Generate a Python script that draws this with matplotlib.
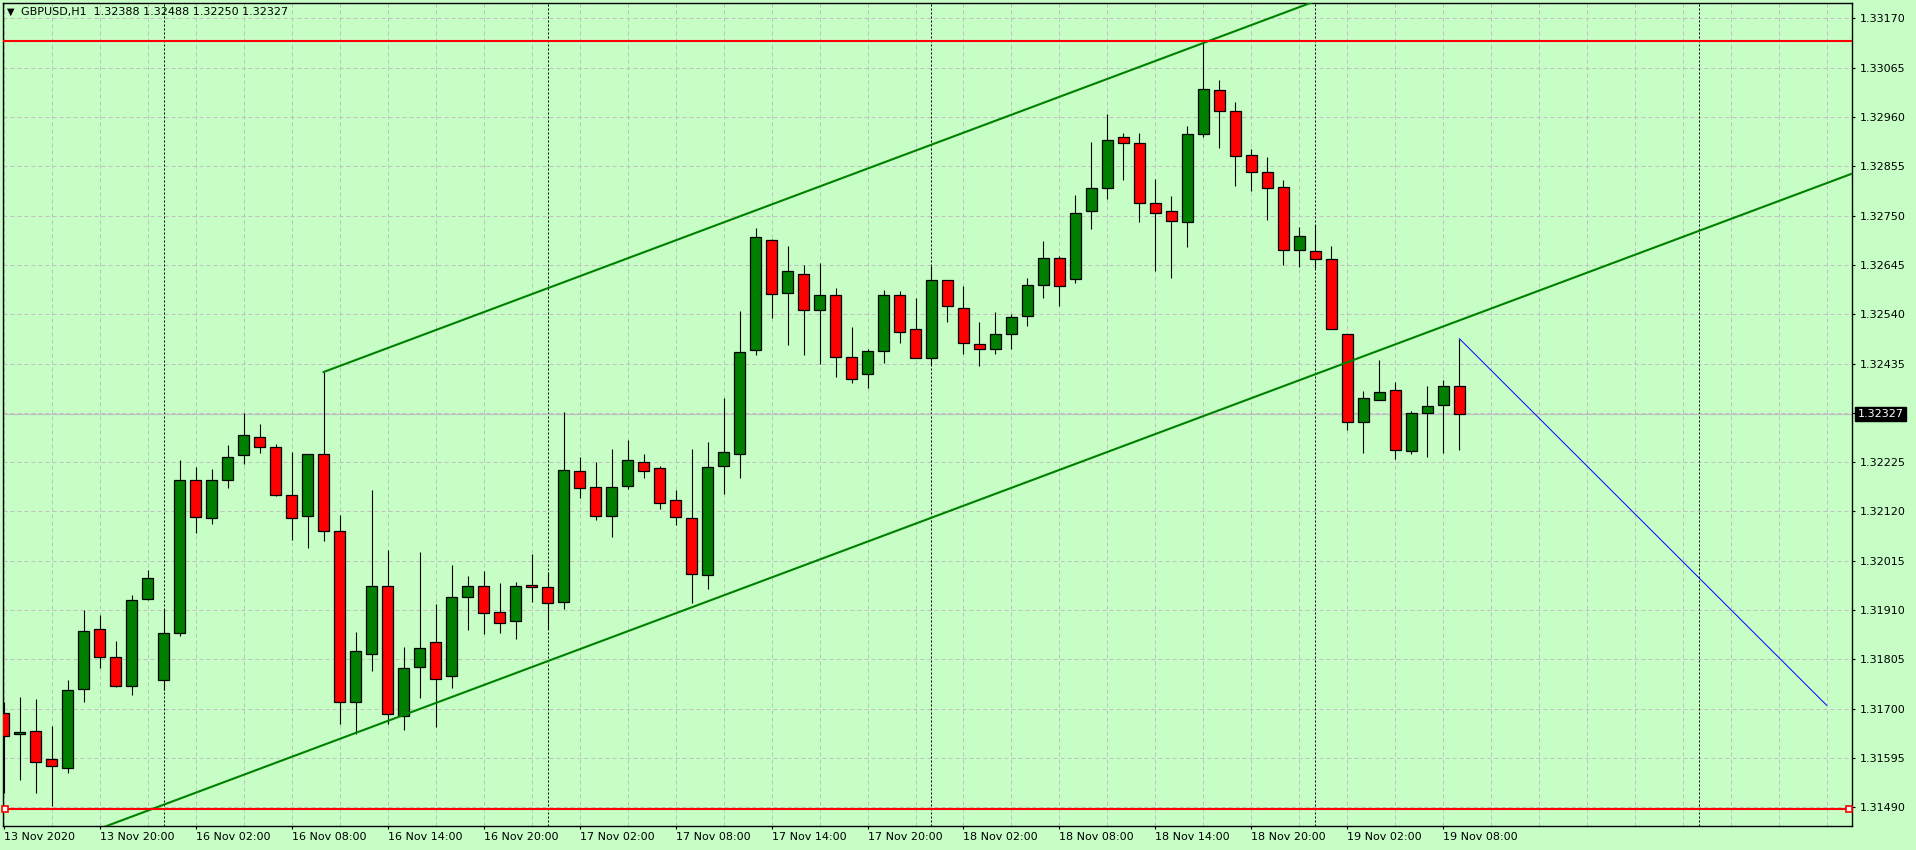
import matplotlib
matplotlib.use('Agg')
import matplotlib.pyplot as plt
import numpy as np

# GBPUSD H1 - velas
etiquetas_x = ['13 Nov 2020', '13 Nov 20:00', '16 Nov 02:00', '16 Nov 08:00', '16 Nov 14:00',
               '16 Nov 20:00', '17 Nov 02:00', '17 Nov 08:00', '17 Nov 14:00', '17 Nov 20:00',
               '18 Nov 02:00', '18 Nov 08:00', '18 Nov 14:00', '18 Nov 20:00', '19 Nov 02:00',
               '19 Nov 08:00']

aperturas = [1.31690, 1.31645, 1.31653, 1.31592, 1.31573, 1.31741, 1.31869, 1.31811, 1.31748, 1.31934,
             1.31762, 1.31862, 1.32188, 1.32107, 1.32186, 1.32241, 1.32278, 1.32258, 1.32156, 1.32111,
             1.32243, 1.32079, 1.31714, 1.31817, 1.31962, 1.31685, 1.31788, 1.31841, 1.31769, 1.31937,
             1.31962, 1.31905, 1.31886, 1.31964, 1.31960, 1.31928, 1.32207, 1.32173, 1.32111, 1.32175,
             1.32226, 1.32212, 1.32145, 1.32105, 1.31984, 1.32216, 1.32243, 1.32463, 1.32699, 1.32586,
             1.32625, 1.32550, 1.32580, 1.32448, 1.32412, 1.32461, 1.32582, 1.32508, 1.32446, 1.32614,
             1.32554, 1.32476, 1.32465, 1.32499, 1.32537, 1.32603, 1.32659, 1.32616, 1.32759, 1.32810,
             1.32917, 1.32904, 1.32778, 1.32761, 1.32736, 1.32925, 1.33017, 1.32974, 1.32880, 1.32842,
             1.32812, 1.32676, 1.32674, 1.32657, 1.32499, 1.32310, 1.32358, 1.32378, 1.32248, 1.32329,
             1.32346, 1.32388]
maximos = [1.31714, 1.31725, 1.31720, 1.31663, 1.31761, 1.31910, 1.31899, 1.31844, 1.31942, 1.31995,
           1.31913, 1.32229, 1.32214, 1.32210, 1.32261, 1.32330, 1.32306, 1.32264, 1.32246, 1.32243,
           1.32417, 1.32112, 1.31863, 1.32165, 1.32038, 1.31831, 1.32033, 1.31922, 1.32006, 1.31982,
           1.31994, 1.31967, 1.31969, 1.32029, 1.31991, 1.32331, 1.32235, 1.32226, 1.32252, 1.32273,
           1.32243, 1.32216, 1.32165, 1.32254, 1.32267, 1.32361, 1.32547, 1.32723, 1.32701, 1.32685,
           1.32646, 1.32649, 1.32595, 1.32512, 1.32465, 1.32591, 1.32589, 1.32574, 1.32642, 1.32614,
           1.32601, 1.32523, 1.32544, 1.32540, 1.32618, 1.32696, 1.32665, 1.32795, 1.32906, 1.32966,
           1.32927, 1.32927, 1.32829, 1.32791, 1.32940, 1.33122, 1.33038, 1.32993, 1.32891, 1.32876,
           1.32827, 1.32725, 1.32731, 1.32685, 1.32499, 1.32376, 1.32442, 1.32395, 1.32335, 1.32387,
           1.32399, 1.32488]
minimos = [1.31520, 1.31549, 1.31521, 1.31493, 1.31563, 1.31714, 1.31787, 1.31746, 1.31729, 1.31932,
           1.31739, 1.31854, 1.32074, 1.32094, 1.32170, 1.32221, 1.32245, 1.32153, 1.32059, 1.32042,
           1.32057, 1.31668, 1.31647, 1.31780, 1.31668, 1.31654, 1.31722, 1.31661, 1.31744, 1.31867,
           1.31859, 1.31861, 1.31849, 1.31927, 1.31870, 1.31912, 1.32149, 1.32101, 1.32065, 1.32168,
           1.32192, 1.32125, 1.32091, 1.31924, 1.31954, 1.32158, 1.32192, 1.32454, 1.32533, 1.32475,
           1.32453, 1.32434, 1.32407, 1.32393, 1.32383, 1.32436, 1.32479, 1.32446, 1.32433, 1.32524,
           1.32456, 1.32429, 1.32456, 1.32465, 1.32516, 1.32574, 1.32557, 1.32606, 1.32721, 1.32786,
           1.32826, 1.32736, 1.32633, 1.32618, 1.32684, 1.32917, 1.32895, 1.32813, 1.32803, 1.32741,
           1.32644, 1.32641, 1.32638, 1.32508, 1.32293, 1.32245, 1.32358, 1.32231, 1.32243, 1.32236,
           1.32245, 1.32250]
cierres = [1.31641, 1.31650, 1.31587, 1.31577, 1.31739, 1.31866, 1.31809, 1.31749, 1.31932, 1.31979,
           1.31862, 1.32188, 1.32109, 1.32186, 1.32237, 1.32282, 1.32258, 1.32156, 1.32105, 1.32243,
           1.32079, 1.31714, 1.31822, 1.31962, 1.31688, 1.31786, 1.31830, 1.31764, 1.31937, 1.31962,
           1.31903, 1.31883, 1.31962, 1.31960, 1.31924, 1.32209, 1.32171, 1.32111, 1.32173, 1.32229,
           1.32207, 1.32139, 1.32109, 1.31986, 1.32214, 1.32246, 1.32459, 1.32704, 1.32584, 1.32633,
           1.32550, 1.32582, 1.32448, 1.32403, 1.32461, 1.32582, 1.32503, 1.32446, 1.32614, 1.32557,
           1.32478, 1.32465, 1.32499, 1.32535, 1.32603, 1.32659, 1.32601, 1.32755, 1.32810, 1.32912,
           1.32904, 1.32778, 1.32755, 1.32738, 1.32925, 1.33019, 1.32972, 1.32878, 1.32844, 1.32810,
           1.32676, 1.32706, 1.32657, 1.32508, 1.32310, 1.32361, 1.32375, 1.32250, 1.32329, 1.32344,
           1.32388, 1.32327]

# objetos dibujados (barra, precio)
canal_inf_x = [0, 115.5]
canal_inf_y = [1.31368, 1.32839]
canal_sup_x = [20, 115.5]
canal_sup_y = [1.32417, 1.33634]
linea_azul_x = [91, 113.96]
linea_azul_y = [1.32488, 1.31707]
nivel_sup = 1.33123
nivel_inf = 1.31487
separadores_dia = [10, 34, 58, 82, 106]

fondo = '#c6fec6'
gris = '#c0c0c0'

fig = plt.figure(figsize=(19.16, 8.5), dpi=100, facecolor=fondo)
ax = fig.add_axes([3 / 1916, 24 / 850, 1849 / 1916, 823 / 850])
ax.set_facecolor(fondo)
ax.set_xlim(-0.04, 115.54)
ax.set_ylim(1.31450, 1.33203)

# rejilla
ticks_y = [1.31490 + 0.00105 * k for k in range(17)]
for v in ticks_y:
    ax.axhline(v, color=gris, lw=0.72, dashes=(4, 3), zorder=0)
for b in range(0, 116, 3):
    ax.axvline(b, color=gris, lw=0.72, dashes=(4, 3), zorder=0)
for b in separadores_dia:
    ax.axvline(b, color='black', lw=0.72, dashes=(2, 2), zorder=1)

# linea de precio actual
ax.axhline(cierres[-1], color='#c0c0c0', lw=0.9, zorder=1)

# velas
idx = np.arange(len(aperturas))
o = np.array(aperturas)
c = np.array(cierres)
sube = c >= o
base = np.minimum(o, c)
alto = np.maximum(np.abs(c - o), 0.000012)
colores = np.where(sube, '#008000', '#ff0000')
ax.vlines(idx, minimos, maximos, color='black', lw=0.8, zorder=2)
ax.bar(idx, alto, bottom=base, width=0.66, color=colores, edgecolor='black', linewidth=0.9, zorder=3)

# canal, niveles y linea azul
ax.plot(canal_inf_x, canal_inf_y, color='#008000', lw=1.5, zorder=4)
ax.plot(canal_sup_x, canal_sup_y, color='#008000', lw=1.5, zorder=4)
ax.plot(linea_azul_x, linea_azul_y, color='#0000ff', lw=0.7, zorder=4)
ax.axhline(nivel_sup, color='#ff0000', lw=1.5, zorder=4)
ax.axhline(nivel_inf, color='#ff0000', lw=1.5, zorder=4)
ax.plot([0.1, 115.35], [nivel_inf, nivel_inf], ls='none', marker='s', ms=4,
        mfc='white', mec='#ff0000', mew=1.2, zorder=5, clip_on=False)

# ejes
ax.yaxis.tick_right()
ax.set_yticks(ticks_y)
ax.set_yticklabels(['' if k == 8 else f'{v:.5f}' for k, v in enumerate(ticks_y)])
ax.set_xticks(range(0, 91, 6))
ax.set_xticklabels(etiquetas_x, ha='left')
ax.tick_params(axis='both', direction='out', length=2.5, width=0.8, labelsize=8, colors='black')
ax.tick_params(axis='x', pad=2)
ax.tick_params(axis='y', pad=3)
for s in ax.spines.values():
    s.set_color('black')
    s.set_linewidth(1.0)

# etiqueta del precio actual
ax.annotate(f'{cierres[-1]:.5f}', xy=(1, cierres[-1]), xycoords=('axes fraction', 'data'),
            xytext=(4, 0), textcoords='offset points', ha='left', va='center',
            fontsize=8, color='white',
            bbox=dict(boxstyle='square,pad=0.2', fc='black', ec='black'), annotation_clip=False)

# titulo
fig.text(7 / 1916, 1 - 12 / 850, '▼', fontsize=7, va='center', ha='left')
fig.text(21 / 1916, 1 - 12.5 / 850,
         f'GBPUSD,H1  {aperturas[-1]:.5f} {maximos[-1]:.5f} {minimos[-1]:.5f} {cierres[-1]:.5f}',
         fontsize=8, va='center', ha='left')

fig.savefig('out.png', dpi=100, facecolor=fondo)
